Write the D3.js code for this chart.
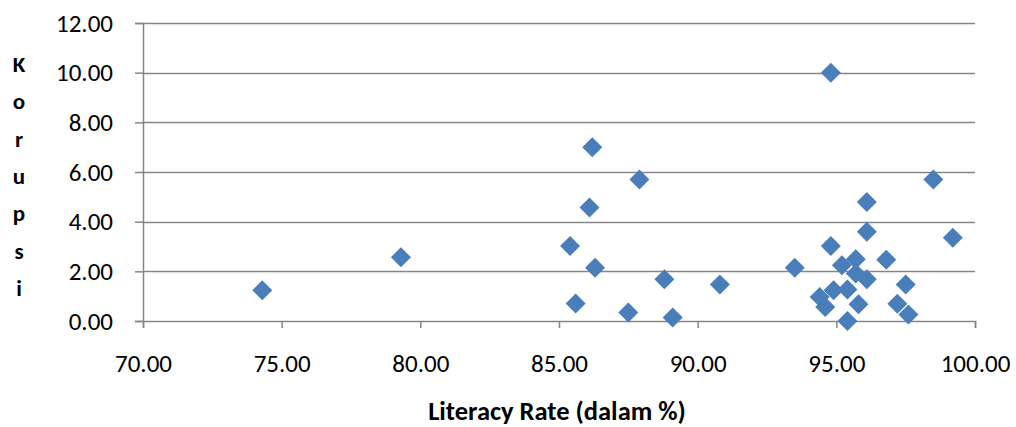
<!DOCTYPE html>
<html>
<head>
<meta charset="utf-8">
<script src="https://cdn.jsdelivr.net/npm/d3@7"></script>
<style>
  body { margin: 0; background: #fff; }
  svg text { font-family: Carlito, Lato, "Open Sans", sans-serif; fill: #000; }
</style>
</head>
<body>
<div id="chart"></div>
<script>
// literacy rate (%) and korupsi index
const literacy = [74.3, 79.3, 86.2, 87.9, 86.1, 85.4, 86.3, 88.8, 90.8, 85.6, 87.5, 89.1,
                  94.8, 98.5, 96.1, 96.1, 99.2, 94.8, 93.5, 96.8, 95.2, 95.7, 95.7, 96.1,
                  97.5, 94.9, 95.4, 94.4, 94.6, 95.8, 97.2, 97.6, 95.4]
const korupsi = [1.24, 2.57, 7.0, 5.7, 4.57, 3.02, 2.14, 1.68, 1.47, 0.7, 0.34, 0.14,
                 10.0, 5.7, 4.79, 3.59, 3.35, 3.02, 2.14, 2.47, 2.25, 2.49, 1.91, 1.68,
                 1.47, 1.24, 1.27, 0.97, 0.56, 0.67, 0.69, 0.26, 0.0]
const xTicks = [70, 75, 80, 85, 90, 95, 100]
const yTicks = [0, 2, 4, 6, 8, 10, 12]
const yTitle = ["K", "o", "r", "u", "p", "s", "i"]

const w = 1016,
      h = 427,
      margin = {top: 23, right: 41, bottom: 106, left: 143},
      grey = "#868686",
      blue = "#4a7ebb"

const x = d3.scaleLinear()
  .domain([70, 100])
  .range([margin.left, w - margin.right])
const y = d3.scaleLinear()
  .domain([0, 12])
  .range([h - margin.bottom, margin.top])

const svg = d3.select("#chart").append("svg")
  .attr("width", w)
  .attr("height", h)

// horizontal gridlines
svg.append("g")
  .selectAll("line")
  .data(yTicks.filter(d => d > 0))
  .join("line")
    .attr("x1", x(70))
    .attr("x2", x(100))
    .attr("y1", d => Math.round(y(d)) + 0.5)
    .attr("y2", d => Math.round(y(d)) + 0.5)
    .attr("stroke", grey)
    .attr("stroke-width", 1.5)

// y axis
const yAxis = svg.append("g")
  .attr("transform", `translate(${x(70)}, 0)`)
  .call(d3.axisLeft(y).tickValues(yTicks).tickSize(8).tickPadding(22).tickFormat(d3.format(".2f")))
yAxis.select(".domain").attr("stroke", grey).attr("stroke-width", 1.5)
yAxis.selectAll(".tick line").attr("stroke", grey).attr("stroke-width", 1.5)
yAxis.selectAll("text").style("font-size", "25px").attr("fill", "#000")

// x axis
const xAxis = svg.append("g")
  .attr("transform", `translate(0, ${y(0)})`)
  .call(d3.axisBottom(x).tickValues(xTicks).tickSize(7).tickPadding(26).tickFormat(d3.format(".2f")))
xAxis.select(".domain").attr("stroke", grey).attr("stroke-width", 1.5)
xAxis.selectAll(".tick line").attr("stroke", grey).attr("stroke-width", 1.5)
xAxis.selectAll("text").style("font-size", "25px").attr("fill", "#000")

// points as diamonds
const data = literacy.map((d, i) => ({x: d, y: korupsi[i]}))
svg.append("g")
  .selectAll("path")
  .data(data)
  .join("path")
    .attr("transform", d => `translate(${x(d.x)}, ${y(d.y)})`)
    .attr("d", "M0,-10L10,0L0,10L-10,0Z")
    .attr("fill", blue)

// x axis title
svg.append("text")
  .attr("x", 557)
  .attr("y", 420)
  .attr("text-anchor", "middle")
  .style("font-size", "26.5px")
  .style("font-weight", "bold")
  .text("Literacy Rate (dalam %)")

// y axis title, one letter per line
svg.append("g")
  .selectAll("text")
  .data(yTitle)
  .join("text")
    .attr("x", 19)
    .attr("y", (d, i) => 72 + i * 37.3)
    .attr("text-anchor", "middle")
    .style("font-size", "23px")
    .style("font-weight", "bold")
    .text(d => d)
</script>
</body>
</html>
